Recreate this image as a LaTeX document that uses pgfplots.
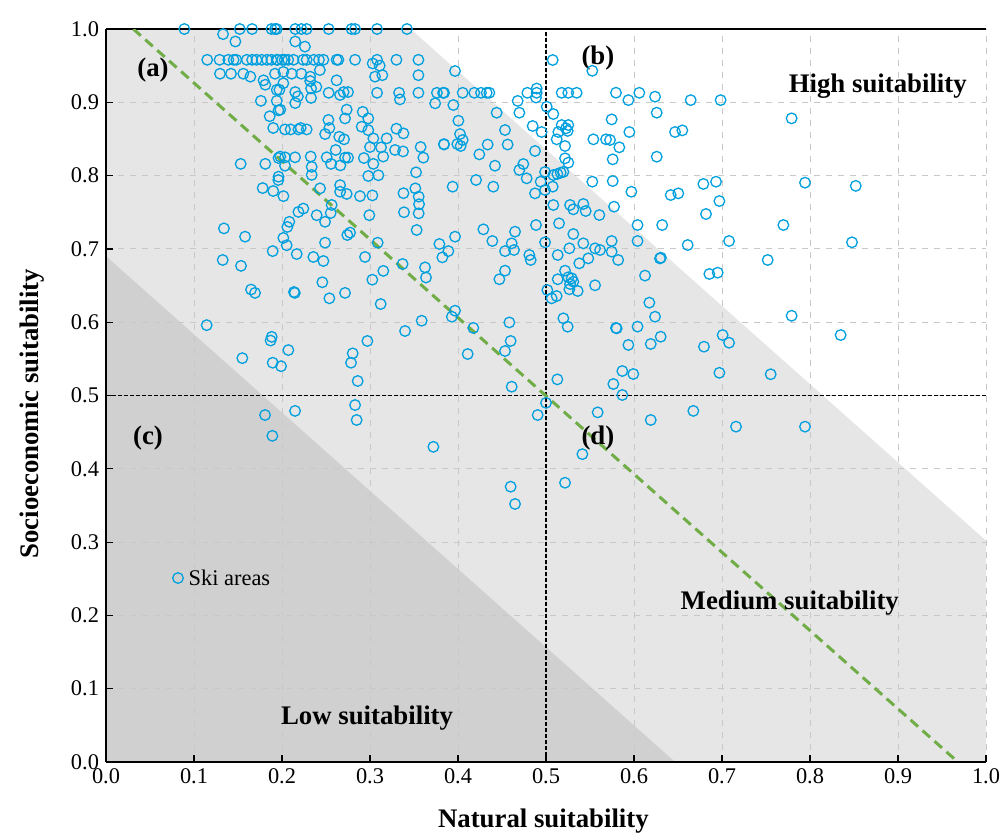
\documentclass[border=0pt]{standalone}
\usepackage{fontspec}
\setmainfont{Liberation Serif}
\usepackage{pgfplots}
\pgfplotsset{compat=1.18}
\definecolor{ski}{RGB}{0,160,222}
\definecolor{lightbg}{RGB}{230,230,230}
\definecolor{darkbg}{RGB}{208,208,208}
\definecolor{gline}{RGB}{112,173,71}
\definecolor{gridc}{RGB}{200,200,200}
\newcommand{\lab}{\bfseries\fontsize{13.4}{16}\selectfont}
\newcommand{\txt}{\fontsize{11.2}{13}\selectfont}

\begin{document}
\begin{tikzpicture}
\begin{axis}[
    set layers,
    scale only axis, width=440pt, height=366.5pt,
    xmin=0, xmax=1, ymin=0, ymax=1,
    xtick={0,0.1,0.2,0.3,0.4,0.5,0.6,0.7,0.8,0.9,1},
    ytick={0,0.1,0.2,0.3,0.4,0.5,0.6,0.7,0.8,0.9,1},
    axis x line=box, axis y line=left,
    axis line style={-, black, line width=0.7pt},
    xtick pos=lower, ytick pos=left,
    tick align=inside, major tick length=3.5pt,
    tick style={black, line width=0.6pt},
    ticklabel style={font=\txt},
    xticklabel style={/pgf/number format/.cd, fixed, fixed zerofill, precision=1, assume math mode=true},
    yticklabel style={/pgf/number format/.cd, fixed, fixed zerofill, precision=1, assume math mode=true},
    grid=major, grid style={dashed, gridc, line width=0.5pt},
    xlabel={Natural suitability},
    ylabel={Socioeconomic suitability},
    label style={font=\lab},
    xlabel style={at={(rel axis cs:0.497,-0.08)}, anchor=center},
    ylabel style={at={(rel axis cs:-0.0845,0.475)}, anchor=center},
  ]
  % zones
  \addplot[on layer=axis background, fill=lightbg, draw=none, forget plot]
    coordinates {(0,0) (0,1) (0.346,1) (1,0.302) (1,0)} -- cycle;
  \addplot[on layer=axis background, fill=darkbg, draw=none, forget plot]
    coordinates {(0,0) (0,0.69) (0.6467,0)} -- cycle;

  % quadrant lines
  \addplot[black, line width=0.6pt, dash pattern=on 2pt off 1pt, forget plot]
    coordinates {(0.5,0) (0.5,1)};
  \addplot[black, line width=0.6pt, dash pattern=on 2pt off 1pt, forget plot]
    coordinates {(0,0.5) (1,0.5)};
  \addplot[gline, line width=1.5pt, dash pattern=on 5pt off 3pt, forget plot]
    coordinates {(0.031,1) (0.968,0)};

  % ski areas
  \addplot[only marks, mark=o, mark size=2.65pt, ski, line width=0.65pt] coordinates {
    (0.089,1.0) (0.133,0.993) (0.147,0.983) (0.152,1.0) (0.166,1.0) (0.188,1.0) (0.192,1.0)
    (0.115,0.958) (0.129,0.958) (0.139,0.958) (0.145,0.958) (0.148,0.958) (0.160,0.958)
    (0.166,0.958) (0.171,0.958) (0.177,0.958) (0.183,0.958) (0.188,0.958) (0.194,0.958)
    (0.1295,0.939) (0.142,0.939) (0.156,0.939) (0.164,0.935) (0.179,0.930) (0.192,0.939)
    (0.181,0.924) (0.194,0.917) (0.176,0.902) (0.194,0.902) (0.186,0.881) (0.196,0.889)
    (0.190,0.865) (0.196,0.824) (0.153,0.816) (0.181,0.816) (0.196,0.7985) (0.178,0.783) (0.190,0.779)
    (0.194,1.0) (0.215,1.0) (0.222,1.0) (0.228,1.0) (0.253,1.0) (0.279,1.0) (0.283,1.0) (0.308,1.0) (0.342,1.0)
    (0.215,0.983) (0.226,0.976)
    (0.195,0.958) (0.200,0.958) (0.203,0.958) (0.207,0.958) (0.213,0.958) (0.224,0.958)
    (0.228,0.958) (0.236,0.958) (0.242,0.958) (0.247,0.958) (0.262,0.958) (0.264,0.958)
    (0.283,0.958) (0.308,0.958) (0.330,0.958) (0.355,0.958)
    (0.303,0.953) (0.311,0.950)
    (0.2015,0.9415) (0.211,0.939) (0.222,0.939) (0.232,0.935) (0.243,0.944) (0.3057,0.935) (0.314,0.937) (0.355,0.937)
    (0.262,0.930) (0.2015,0.926) (0.232,0.929) (0.239,0.921) (0.233,0.919)
    (0.197,0.917) (0.215,0.914) (0.218,0.908) (0.253,0.913) (0.266,0.910) (0.270,0.914) (0.275,0.914)
    (0.308,0.913) (0.333,0.913) (0.334,0.904) (0.355,0.913) (0.376,0.913) (0.383,0.913) (0.374,0.8986)
    (0.233,0.906) (0.215,0.899) (0.198,0.890) (0.2735,0.890) (0.2917,0.887) (0.2527,0.876)
    (0.2716,0.878) (0.298,0.878) (0.2538,0.865) (0.2905,0.8667) (0.298,0.862) (0.330,0.864) (0.338,0.8576)
    (0.2034,0.863) (0.2098,0.863) (0.2186,0.863) (0.2212,0.865) (0.228,0.863)
    (0.249,0.8567) (0.265,0.853) (0.2705,0.8495) (0.3038,0.8508) (0.3189,0.8508) (0.384,0.843)
    (0.300,0.839) (0.3125,0.8385) (0.3284,0.835) (0.3375,0.833) (0.3575,0.839) (0.261,0.835)
    (0.198,0.826) (0.2034,0.825) (0.2148,0.825) (0.2326,0.826) (0.2508,0.825) (0.2557,0.816)
    (0.2663,0.814) (0.2716,0.8245) (0.275,0.8245) (0.293,0.824) (0.3038,0.816) (0.315,0.826)
    (0.3606,0.8245) (0.3523,0.8045) (0.2337,0.812) (0.2034,0.8135) (0.2337,0.801) (0.298,0.7995)
    (0.3095,0.8005) (0.1958,0.794) (0.2432,0.7826) (0.266,0.787) (0.266,0.778) (0.2735,0.775)
    (0.2886,0.772) (0.3027,0.773) (0.338,0.776) (0.3515,0.7826) (0.3553,0.7713) (0.2016,0.772)
    (0.3557,0.761) (0.2242,0.755) (0.2186,0.7505) (0.2394,0.746) (0.2489,0.737) (0.2564,0.760)
    (0.2553,0.749) (0.2083,0.737) (0.206,0.730) (0.2992,0.746) (0.3386,0.75) (0.3553,0.7485)
    (0.353,0.7258) (0.2773,0.7222) (0.2742,0.719) (0.2015,0.715) (0.2053,0.705) (0.1894,0.697)
    (0.2167,0.693) (0.2489,0.7085) (0.2356,0.689) (0.247,0.6835) (0.2943,0.689) (0.3087,0.7085)
    (0.3151,0.670) (0.3026,0.658) (0.337,0.6794) (0.3625,0.6748) (0.3636,0.661) (0.3788,0.7067)
    (0.3822,0.6885) (0.389,0.697) (0.2458,0.6545) (0.2136,0.6412) (0.2145,0.640) (0.2538,0.6326)
    (0.2716,0.640) (0.3121,0.6248) (0.393,0.6075) (0.3587,0.602) (0.3398,0.588) (0.297,0.5744)
    (0.1883,0.580) (0.187,0.575) (0.2072,0.562) (0.2803,0.5575) (0.2784,0.5447) (0.1894,0.5447) (0.1989,0.540)
    (0.134,0.728) (0.158,0.7167) (0.1326,0.6849) (0.1534,0.6769) (0.1648,0.6446) (0.1693,0.640)
    (0.1144,0.596) (0.1549,0.551)
    (0.1807,0.4734) (0.189,0.445)
    (0.286,0.5198) (0.2148,0.479) (0.283,0.487) (0.2848,0.4666) (0.372,0.430)
    (0.461,0.512) (0.5129,0.522) (0.5765,0.5157) (0.500,0.490) (0.4905,0.4734) (0.5587,0.477)
    (0.5413,0.420) (0.5216,0.381) (0.4598,0.3756) (0.4648,0.352)
    (0.5867,0.5334) (0.5992,0.5293) (0.5867,0.5007) (0.697,0.531) (0.7553,0.529) (0.619,0.4666)
    (0.6674,0.479) (0.7159,0.4575) (0.7943,0.4575)
    (0.597,0.778) (0.6417,0.7735) (0.6503,0.7758) (0.852,0.786) (0.5773,0.7576) (0.697,0.7653)
    (0.604,0.7326) (0.632,0.7326) (0.6818,0.7476) (0.7697,0.7326) (0.5746,0.7108) (0.604,0.7108)
    (0.661,0.7053) (0.708,0.7108) (0.8477,0.709) (0.5746,0.6962) (0.582,0.6849) (0.6295,0.687)
    (0.6305,0.688) (0.7519,0.6849) (0.6856,0.6658) (0.6951,0.6676) (0.6125,0.6636) (0.6174,0.6267)
    (0.6239,0.6075) (0.7791,0.6088) (0.5803,0.5917) (0.604,0.594) (0.6303,0.5802) (0.619,0.5703)
    (0.5936,0.569) (0.7007,0.5825) (0.708,0.572) (0.6795,0.5666) (0.8348,0.5825)
    (0.5795,0.9131) (0.5936,0.903) (0.606,0.913) (0.6239,0.9077) (0.6644,0.903) (0.6984,0.903)
    (0.5746,0.8767) (0.6258,0.8858) (0.7791,0.8781) (0.5947,0.8595) (0.6466,0.8595) (0.6549,0.8617)
    (0.5727,0.8486) (0.5833,0.8386) (0.5758,0.8222) (0.6258,0.8258) (0.5758,0.7926) (0.6788,0.7886)
    (0.6932,0.7917) (0.7943,0.7904)
    (0.5076,0.9577) (0.5526,0.943) (0.3966,0.9427)
    (0.3841,0.913) (0.4053,0.913) (0.4185,0.913) (0.4261,0.913) (0.4326,0.913) (0.4356,0.913)
    (0.4788,0.913) (0.4894,0.913) (0.5178,0.913) (0.5253,0.913) (0.5348,0.913)
    (0.4894,0.9188) (0.4886,0.9065) (0.4678,0.9019) (0.3947,0.8963) (0.5008,0.894) (0.4697,0.8858)
    (0.4439,0.8858) (0.5083,0.884) (0.4004,0.8749) (0.4848,0.8677) (0.5178,0.869) (0.5253,0.869)
    (0.5227,0.8645) (0.4023,0.8567) (0.4534,0.8622) (0.495,0.8595) (0.514,0.8595) (0.5246,0.861)
    (0.5121,0.8495) (0.5538,0.8495) (0.5682,0.8495) (0.3841,0.8424) (0.3992,0.843) (0.403,0.8404)
    (0.4053,0.8486) (0.4337,0.8424) (0.4564,0.8424) (0.5216,0.8404) (0.4242,0.829) (0.4875,0.8336)
    (0.442,0.8135) (0.4742,0.8158) (0.4697,0.8077) (0.478,0.7963) (0.5216,0.8236) (0.5253,0.8176)
    (0.4989,0.805) (0.5083,0.8008) (0.5129,0.8022) (0.5167,0.804) (0.5197,0.805) (0.4939,0.7917)
    (0.5076,0.7849) (0.4205,0.794) (0.4401,0.7849) (0.3939,0.7849) (0.4875,0.7758) (0.4989,0.7804)
    (0.5526,0.7917)
    (0.5083,0.7599) (0.5273,0.7599) (0.531,0.754) (0.5424,0.7613) (0.5451,0.7517) (0.5606,0.7462)
    (0.4288,0.7267) (0.4648,0.7235) (0.4886,0.7326) (0.5148,0.7349) (0.531,0.7203) (0.3966,0.7167)
    (0.439,0.7108) (0.461,0.7076) (0.4989,0.709) (0.5424,0.7076) (0.4534,0.697) (0.4636,0.6985)
    (0.481,0.6917) (0.4826,0.6849) (0.5265,0.7008) (0.5133,0.6917) (0.5557,0.7008) (0.5614,0.6985)
    (0.548,0.6871) (0.5378,0.6803) (0.5216,0.6703) (0.4534,0.6703) (0.447,0.6586) (0.5133,0.6586)
    (0.5253,0.6613) (0.5292,0.6599) (0.531,0.6553) (0.5273,0.6521) (0.5265,0.6449) (0.536,0.6426)
    (0.5557,0.6504) (0.5015,0.6439) (0.5064,0.6326) (0.5121,0.6357) (0.3966,0.6157) (0.4583,0.5997)
    (0.4174,0.5922) (0.5197,0.6053) (0.5246,0.5939) (0.5795,0.5922) (0.4598,0.5744) (0.4534,0.5607)
    (0.411,0.5566)
  };
  % legend entry
  \addplot[only marks, mark=o, mark size=2.65pt, ski, line width=0.65pt, forget plot]
    coordinates {(0.0818,0.251)};
  \node[anchor=west, font=\txt, inner sep=0pt] at (axis cs:0.0935,0.251) {Ski areas};

  % annotations
  \node[font=\lab] at (axis cs:0.0534,0.944) {(a)};
  \node[font=\lab] at (axis cs:0.559,0.960) {(b)};
  \node[font=\lab] at (axis cs:0.0477,0.442) {(c)};
  \node[font=\lab] at (axis cs:0.559,0.442) {(d)};
  \node[font=\lab] at (axis cs:0.877,0.922) {High suitability};
  \node[font=\lab] at (axis cs:0.777,0.217) {Medium suitability};
  \node[font=\lab] at (axis cs:0.2966,0.060) {Low suitability};

  \coordinate (bbsw) at (rel axis cs:-0.1205,-0.1023);
  \coordinate (bbne) at (rel axis cs:1.0193,1.0396);
\end{axis}
\pgfresetboundingbox
\path[use as bounding box] (bbsw) rectangle (bbne);
\end{tikzpicture}
\end{document}
